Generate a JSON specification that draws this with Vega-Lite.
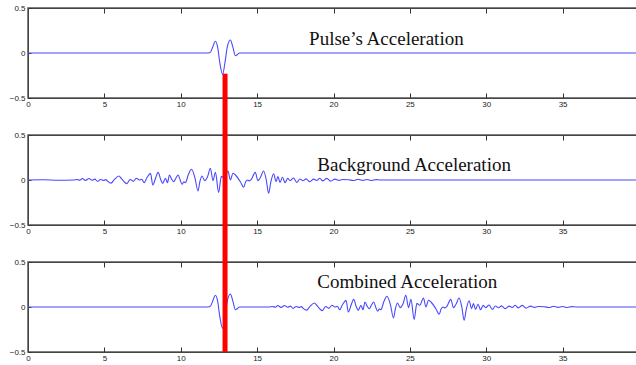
{
  "$schema": "https://vega.github.io/schema/vega-lite/v6.json",
  "background": "white",
  "padding": {"left": 8, "top": 3, "right": 0, "bottom": 0},
  "spacing": 37,
  "bounds": "flush",
  "datasets": {
    "pulse": [
      {"t": 0, "a": 0}, {"t": 11.8, "a": 0}, {"t": 11.95, "a": 0.01}, {"t": 12.1, "a": 0.07}, {"t": 12.27, "a": 0.13}, {"t": 12.42, "a": 0.06}, {"t": 12.55, "a": -0.1}, {"t": 12.74, "a": -0.237}, {"t": 12.9, "a": -0.1}, {"t": 13.05, "a": 0.07}, {"t": 13.25, "a": 0.145}, {"t": 13.42, "a": 0.06}, {"t": 13.58, "a": -0.03}, {"t": 13.7, "a": -0.02}, {"t": 13.85, "a": 0}, {"t": 40, "a": 0}
    ],
    "bg": [
      {"t": 0, "a": 0}, {"t": 1, "a": 0.002}, {"t": 2, "a": -0.002}, {"t": 3, "a": 0},
      {"t": 3.2, "a": 0.006}, {"t": 3.4, "a": -0.003}, {"t": 3.55, "a": 0.016}, {"t": 3.77, "a": -0.005}, {"t": 3.99, "a": 0.016}, {"t": 4.2, "a": -0.003}, {"t": 4.37, "a": 0.01}, {"t": 4.56, "a": -0.016}, {"t": 4.75, "a": 0.006}, {"t": 4.96, "a": -0.006}, {"t": 5.1, "a": 0.004}, {"t": 5.22, "a": -0.016}, {"t": 5.44, "a": -0.035}, {"t": 5.65, "a": 0.005}, {"t": 5.95, "a": 0.044}, {"t": 6.12, "a": 0.015}, {"t": 6.3, "a": -0.02}, {"t": 6.47, "a": -0.04}, {"t": 6.69, "a": 0.006}, {"t": 6.9, "a": -0.015}, {"t": 7.1, "a": 0.02}, {"t": 7.3, "a": 0}, {"t": 7.45, "a": 0.008}, {"t": 7.6, "a": -0.03}, {"t": 7.8, "a": 0.03},
      {"t": 8.02, "a": 0.074}, {"t": 8.17, "a": -0.056}, {"t": 8.35, "a": 0.02}, {"t": 8.52, "a": 0.085}, {"t": 8.7, "a": 0}, {"t": 8.82, "a": -0.037}, {"t": 9.0, "a": 0.019}, {"t": 9.13, "a": -0.03}, {"t": 9.26, "a": 0.056}, {"t": 9.4, "a": 0.01}, {"t": 9.54, "a": -0.019}, {"t": 9.68, "a": 0.02}, {"t": 9.83, "a": 0.056}, {"t": 9.96, "a": 0}, {"t": 10.09, "a": -0.048}, {"t": 10.2, "a": -0.02}, {"t": 10.3, "a": -0.03}, {"t": 10.5, "a": 0.06}, {"t": 10.7, "a": 0.119}, {"t": 10.92, "a": 0.03}, {"t": 11.13, "a": -0.122}, {"t": 11.25, "a": -0.02}, {"t": 11.39, "a": 0.044}, {"t": 11.57, "a": -0.007}, {"t": 11.74, "a": 0.03}, {"t": 11.94, "a": 0.13}, {"t": 12.11, "a": -0.007}, {"t": 12.27, "a": 0.085}, {"t": 12.48, "a": -0.137}, {"t": 12.66, "a": 0.04}, {"t": 12.85, "a": 0.02}, {"t": 13.09, "a": 0.1}, {"t": 13.25, "a": 0}, {"t": 13.42, "a": 0.075}, {"t": 13.61, "a": 0.05}, {"t": 13.9, "a": -0.019}, {"t": 14.12, "a": -0.081}, {"t": 14.25, "a": -0.02}, {"t": 14.38, "a": 0}, {"t": 14.5, "a": -0.01}, {"t": 14.62, "a": 0.007}, {"t": 14.88, "a": 0.085}, {"t": 15.05, "a": -0.007}, {"t": 15.22, "a": 0.03}, {"t": 15.42, "a": 0.1}, {"t": 15.6, "a": 0}, {"t": 15.75, "a": -0.148}, {"t": 15.9, "a": -0.02}, {"t": 16.08, "a": 0.07}, {"t": 16.24, "a": -0.018}, {"t": 16.36, "a": 0.037}, {"t": 16.5, "a": -0.026}, {"t": 16.66, "a": 0.03}, {"t": 16.83, "a": -0.03}, {"t": 17.0, "a": 0.018}, {"t": 17.16, "a": -0.007}, {"t": 17.38, "a": 0.022}, {"t": 17.6, "a": -0.026}, {"t": 17.8, "a": 0.011}, {"t": 18.0, "a": -0.008}, {"t": 18.2, "a": 0.012}, {"t": 18.45, "a": -0.018}, {"t": 18.7, "a": 0.01}, {"t": 18.9, "a": -0.006}, {"t": 19.1, "a": 0.02}, {"t": 19.3, "a": -0.01}, {"t": 19.56, "a": 0.018}, {"t": 19.8, "a": -0.012}, {"t": 20.1, "a": 0.01}, {"t": 20.35, "a": -0.004}, {"t": 20.6, "a": 0.006}, {"t": 21.0, "a": 0.002}, {"t": 21.3, "a": -0.006}, {"t": 21.6, "a": 0.008}, {"t": 21.9, "a": -0.004}, {"t": 22.2, "a": 0.006}, {"t": 22.5, "a": -0.006}, {"t": 22.8, "a": 0.004}, {"t": 23.1, "a": 0}, {"t": 40, "a": 0}
    ],
    "comb": [
      {"t": 0, "a": 0}, {"t": 11.8, "a": 0}, {"t": 11.95, "a": 0.01}, {"t": 12.1, "a": 0.07}, {"t": 12.27, "a": 0.13}, {"t": 12.42, "a": 0.06}, {"t": 12.55, "a": -0.1}, {"t": 12.74, "a": -0.237}, {"t": 12.9, "a": -0.1}, {"t": 13.05, "a": 0.07}, {"t": 13.25, "a": 0.145}, {"t": 13.42, "a": 0.06}, {"t": 13.58, "a": -0.03}, {"t": 13.7, "a": -0.02}, {"t": 13.85, "a": 0}, {"t": 15.8, "a": 0},
      {"t": 16.0, "a": 0.006}, {"t": 16.2, "a": -0.003}, {"t": 16.35, "a": 0.016}, {"t": 16.57, "a": -0.005}, {"t": 16.79, "a": 0.016}, {"t": 17.0, "a": -0.003}, {"t": 17.17, "a": 0.01}, {"t": 17.36, "a": -0.016}, {"t": 17.55, "a": 0.006}, {"t": 17.76, "a": -0.006}, {"t": 17.9, "a": 0.004}, {"t": 18.02, "a": -0.016}, {"t": 18.24, "a": -0.035}, {"t": 18.45, "a": 0.005}, {"t": 18.75, "a": 0.044}, {"t": 18.92, "a": 0.015}, {"t": 19.1, "a": -0.02}, {"t": 19.27, "a": -0.04}, {"t": 19.49, "a": 0.006}, {"t": 19.7, "a": -0.015}, {"t": 19.9, "a": 0.02}, {"t": 20.1, "a": 0}, {"t": 20.25, "a": 0.008}, {"t": 20.4, "a": -0.03}, {"t": 20.6, "a": 0.03},
      {"t": 20.82, "a": 0.074}, {"t": 20.97, "a": -0.056}, {"t": 21.15, "a": 0.02}, {"t": 21.32, "a": 0.085}, {"t": 21.5, "a": 0}, {"t": 21.62, "a": -0.037}, {"t": 21.8, "a": 0.019}, {"t": 21.93, "a": -0.03}, {"t": 22.06, "a": 0.056}, {"t": 22.2, "a": 0.01}, {"t": 22.34, "a": -0.019}, {"t": 22.48, "a": 0.02}, {"t": 22.63, "a": 0.056}, {"t": 22.76, "a": 0}, {"t": 22.89, "a": -0.048}, {"t": 23.0, "a": -0.02}, {"t": 23.1, "a": -0.03}, {"t": 23.3, "a": 0.06}, {"t": 23.5, "a": 0.119}, {"t": 23.72, "a": 0.03}, {"t": 23.93, "a": -0.122}, {"t": 24.05, "a": -0.02}, {"t": 24.19, "a": 0.044}, {"t": 24.37, "a": -0.007}, {"t": 24.54, "a": 0.03}, {"t": 24.74, "a": 0.13}, {"t": 24.91, "a": -0.007}, {"t": 25.07, "a": 0.085}, {"t": 25.28, "a": -0.137}, {"t": 25.46, "a": 0.04}, {"t": 25.65, "a": 0.02}, {"t": 25.89, "a": 0.1}, {"t": 26.05, "a": 0}, {"t": 26.22, "a": 0.075}, {"t": 26.41, "a": 0.05}, {"t": 26.7, "a": -0.019}, {"t": 26.92, "a": -0.081}, {"t": 27.05, "a": -0.02}, {"t": 27.18, "a": 0}, {"t": 27.3, "a": -0.01}, {"t": 27.42, "a": 0.007}, {"t": 27.68, "a": 0.085}, {"t": 27.85, "a": -0.007}, {"t": 28.02, "a": 0.03}, {"t": 28.22, "a": 0.1}, {"t": 28.4, "a": 0}, {"t": 28.55, "a": -0.148}, {"t": 28.7, "a": -0.02}, {"t": 28.88, "a": 0.07}, {"t": 29.04, "a": -0.018}, {"t": 29.16, "a": 0.037}, {"t": 29.3, "a": -0.026}, {"t": 29.46, "a": 0.03}, {"t": 29.63, "a": -0.03}, {"t": 29.8, "a": 0.018}, {"t": 29.96, "a": -0.007}, {"t": 30.18, "a": 0.022}, {"t": 30.4, "a": -0.026}, {"t": 30.6, "a": 0.011}, {"t": 30.8, "a": -0.008}, {"t": 31.0, "a": 0.012}, {"t": 31.25, "a": -0.018}, {"t": 31.5, "a": 0.01}, {"t": 31.7, "a": -0.006}, {"t": 31.9, "a": 0.02}, {"t": 32.1, "a": -0.01}, {"t": 32.36, "a": 0.018}, {"t": 32.6, "a": -0.012}, {"t": 32.9, "a": 0.01}, {"t": 33.15, "a": -0.004}, {"t": 33.4, "a": 0.006}, {"t": 33.8, "a": 0.002}, {"t": 34.1, "a": -0.006}, {"t": 34.4, "a": 0.008}, {"t": 34.7, "a": -0.004}, {"t": 35.0, "a": 0.006}, {"t": 35.3, "a": -0.006}, {"t": 35.6, "a": 0.004}, {"t": 35.9, "a": 0}, {"t": 40, "a": 0}
    ]
  },
  "vconcat": [
    {
      "width": 611, "height": 90,
      "layer": [
        {"data": {"name": "pulse"}, "mark": {"type": "line", "color": "#4848ff", "strokeWidth": 1.1, "interpolate": "monotone"},
         "encoding": {"x": {"field": "t", "type": "quantitative", "scale": {"domain": [0, 40]}, "axis": {"orient": "bottom", "values": [0,5,10,15,20,25,30,35]}},
                      "y": {"field": "a", "type": "quantitative", "scale": {"domain": [-0.5, 0.5]}, "axis": {"values": [-0.5, 0, 0.5], "format": ".1~f"}}}},
        {"data": {"values": [{}]}, "mark": {"type": "rule", "color": "#ff0000", "strokeWidth": 5},
         "encoding": {"x": {"datum": 12.9, "type": "quantitative", "scale": {"domain": [0, 40]}, "axis": {"orient": "top", "labels": false, "values": [0,5,10,15,20,25,30,35]}},
                      "y": {"datum": -0.23, "type": "quantitative", "scale": {"domain": [-0.5, 0.5]}, "axis": {"values": [-0.5, 0, 0.5], "format": ".1~f"}},
                      "y2": {"datum": -0.5}}},
        {"data": {"values": [{}]}, "mark": {"type": "text", "text": "Pulse\u2019s Acceleration", "font": "Liberation Serif", "fontSize": 19, "align": "left", "baseline": "alphabetic", "color": "#111"},
         "encoding": {"x": {"datum": 18.4, "type": "quantitative", "scale": {"domain": [0, 40]}, "axis": null},
                      "y": {"datum": 0.09, "type": "quantitative", "scale": {"domain": [-0.5, 0.5]}, "axis": {"values": [-0.5, 0, 0.5], "format": ".1~f"}}}}
      ],
      "resolve": {"axis": {"x": "independent"}}
    },
    {
      "width": 611, "height": 90,
      "layer": [
        {"data": {"name": "bg"}, "mark": {"type": "line", "color": "#4848ff", "strokeWidth": 1.1, "interpolate": "monotone"},
         "encoding": {"x": {"field": "t", "type": "quantitative", "scale": {"domain": [0, 40]}, "axis": {"orient": "bottom", "values": [0,5,10,15,20,25,30,35]}},
                      "y": {"field": "a", "type": "quantitative", "scale": {"domain": [-0.5, 0.5]}, "axis": {"values": [-0.5, 0, 0.5], "format": ".1~f"}}}},
        {"data": {"values": [{}]}, "mark": {"type": "rule", "color": "#ff0000", "strokeWidth": 5},
         "encoding": {"x": {"datum": 12.9, "type": "quantitative", "scale": {"domain": [0, 40]}, "axis": {"orient": "top", "labels": false, "values": [0,5,10,15,20,25,30,35]}},
                      "y": {"datum": 0.92, "type": "quantitative", "scale": {"domain": [-0.5, 0.5]}, "axis": {"values": [-0.5, 0, 0.5], "format": ".1~f"}},
                      "y2": {"datum": -0.5}}},
        {"data": {"values": [{}]}, "mark": {"type": "text", "text": "Background Acceleration", "font": "Liberation Serif", "fontSize": 19, "align": "left", "baseline": "alphabetic", "color": "#111"},
         "encoding": {"x": {"datum": 18.94, "type": "quantitative", "scale": {"domain": [0, 40]}, "axis": null},
                      "y": {"datum": 0.105, "type": "quantitative", "scale": {"domain": [-0.5, 0.5]}, "axis": {"values": [-0.5, 0, 0.5], "format": ".1~f"}}}}
      ],
      "resolve": {"axis": {"x": "independent"}}
    },
    {
      "width": 611, "height": 90,
      "layer": [
        {"data": {"name": "comb"}, "mark": {"type": "line", "color": "#4848ff", "strokeWidth": 1.1, "interpolate": "monotone"},
         "encoding": {"x": {"field": "t", "type": "quantitative", "scale": {"domain": [0, 40]}, "axis": {"orient": "bottom", "values": [0,5,10,15,20,25,30,35]}},
                      "y": {"field": "a", "type": "quantitative", "scale": {"domain": [-0.5, 0.5]}, "axis": {"values": [-0.5, 0, 0.5], "format": ".1~f"}}}},
        {"data": {"values": [{}]}, "mark": {"type": "rule", "color": "#ff0000", "strokeWidth": 5},
         "encoding": {"x": {"datum": 12.9, "type": "quantitative", "scale": {"domain": [0, 40]}, "axis": {"orient": "top", "labels": false, "values": [0,5,10,15,20,25,30,35]}},
                      "y": {"datum": 0.92, "type": "quantitative", "scale": {"domain": [-0.5, 0.5]}, "axis": {"values": [-0.5, 0, 0.5], "format": ".1~f"}},
                      "y2": {"datum": -0.5}}},
        {"data": {"values": [{}]}, "mark": {"type": "text", "text": "Combined Acceleration", "font": "Liberation Serif", "fontSize": 19, "align": "left", "baseline": "alphabetic", "color": "#111"},
         "encoding": {"x": {"datum": 18.94, "type": "quantitative", "scale": {"domain": [0, 40]}, "axis": null},
                      "y": {"datum": 0.21, "type": "quantitative", "scale": {"domain": [-0.5, 0.5]}, "axis": {"values": [-0.5, 0, 0.5], "format": ".1~f"}}}}
      ],
      "resolve": {"axis": {"x": "independent"}}
    }
  ],
  "config": {
    "view": {"stroke": "#555", "strokeWidth": 1.5},
    "axis": {
      "title": null, "grid": false,
      "labelFont": "Liberation Sans", "labelFontSize": 8, "labelColor": "#222",
      "domainColor": "#444", "domainWidth": 1, "tickColor": "#333", "tickSize": -5, "labelPadding": 7,
      "labelFlush": false, "labelOverlap": false
    },
    "axisY": {"tickSize": -3, "labelPadding": 6}
  }
}
